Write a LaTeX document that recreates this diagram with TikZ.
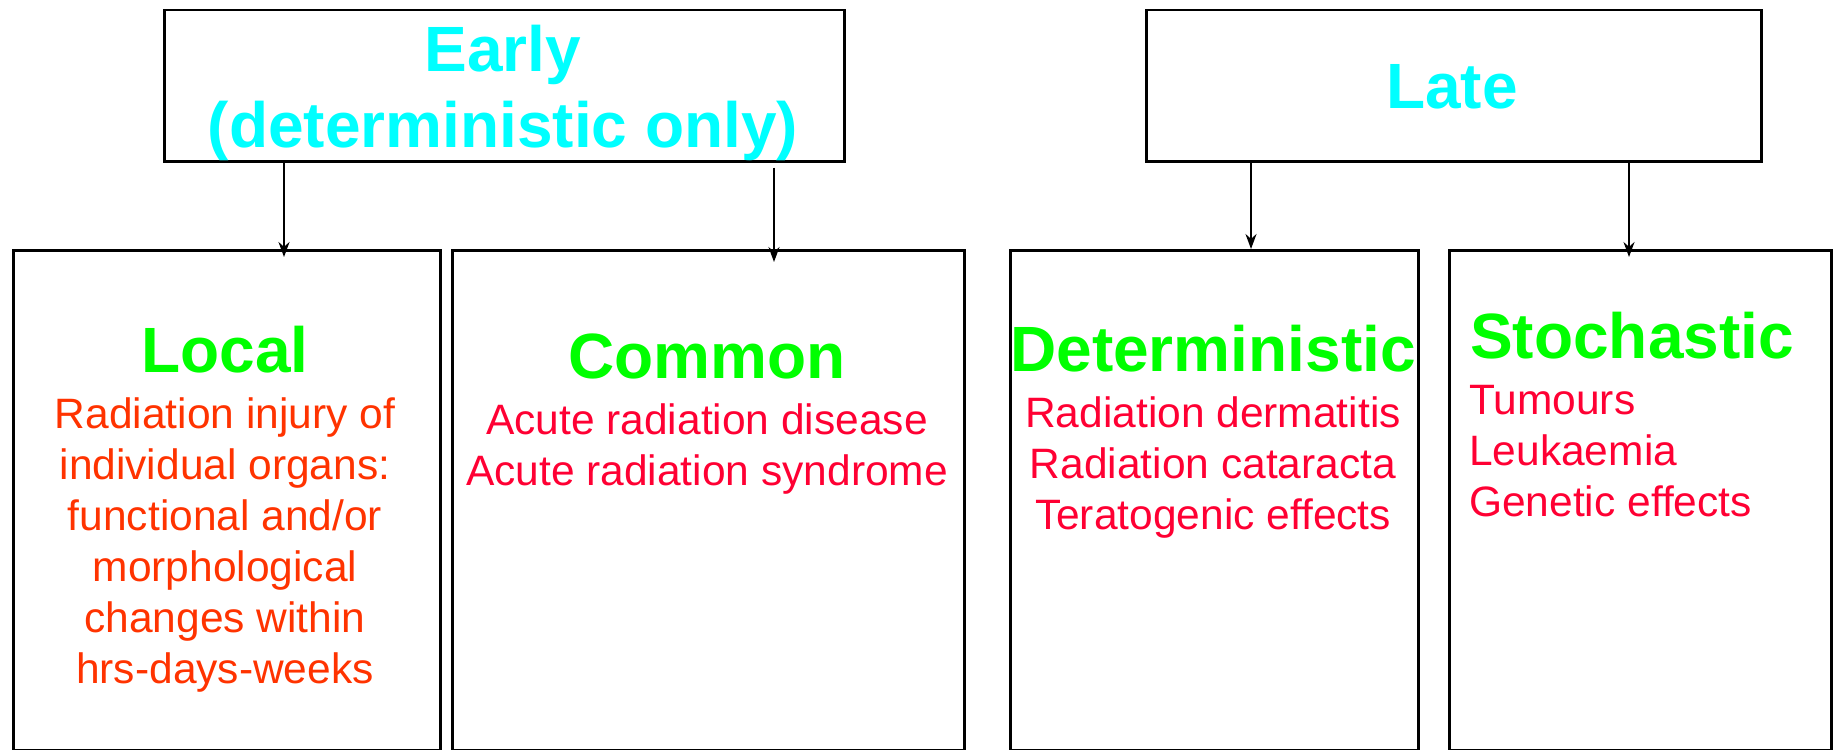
\documentclass[tikz,border=0pt]{standalone}
\usepackage{fontspec}
\setmainfont{Liberation Sans}
\usetikzlibrary{arrows.meta,positioning,calc}

\definecolor{headcyan}{RGB}{0,255,255}
\definecolor{headgreen}{RGB}{0,255,0}
\definecolor{effectorange}{RGB}{255,51,0}
\definecolor{effectred}{RGB}{255,0,51}

\tikzset{
  box/.style={draw, line width=2.5pt, anchor=north west, inner sep=0pt},
  title/.style={text=headcyan, font=\fontsize{64}{76}\selectfont\bfseries, align=center, inner sep=0pt, anchor=base},
  heading/.style={text=headgreen, font=\fontsize{64}{76}\selectfont\bfseries, inner sep=0pt, anchor=base},
  effects/.style={font=\fontsize{42.5}{51}\selectfont, inner sep=0pt, anchor=base},
  link/.style={-{Stealth[length=15pt,width=11pt]}, line width=2pt},
}

\begin{document}
\begin{tikzpicture}[x=1pt, y=-1pt]
  \useasboundingbox (0,0) rectangle (1835,749);

  % top level: early and late effects
  \node[box, minimum width=680pt, minimum height=151pt] (early) at (163,9) {};
  \node[box, minimum width=615pt, minimum height=151pt] (late) at (1145,9) {};
  % base anchor sits on the last line
  \node[title] (earlytxt) at (503,147) {Early\\(deterministic only)};
  \node[title] (latetxt) at (1452,109) {Late};

  % second level boxes
  \node[box, minimum width=427pt, minimum height=500pt] (local) at (12,249) {};
  \node[box, minimum width=512pt, minimum height=500pt] (common) at (451,249) {};
  \node[box, minimum width=408pt, minimum height=500pt] (determ) at (1009,249) {};
  \node[box, minimum width=382pt, minimum height=500pt] (stoch) at (1448,249) {};

  % Local
  \node[heading] (localhd) at (225,372) {Local};
  \node[effects, text=effectorange, align=center] (localtxt) at (225,683)
    {Radiation injury of\\individual organs:\\functional and/or\\morphological\\changes within\\hrs-days-weeks};

  % Common
  \node[heading] (commonhd) at (707,378) {Common};
  \node[effects, text=effectred, align=center] (commontxt) at (707,485)
    {Acute radiation disease\\Acute radiation syndrome};

  % Deterministic
  \node[heading] (determhd) at (1213,371) {Deterministic};
  \node[effects, text=effectred, align=center] (determtxt) at (1213,529)
    {Radiation dermatitis\\Radiation cataracta\\Teratogenic effects};

  % Stochastic
  \node[heading, anchor=base west] (stochhd) at (1470,358) {Stochastic};
  \node[effects, text=effectred, align=left, anchor=base west] (stochtxt) at (1469,516)
    {Tumours\\Leukaemia\\Genetic effects};

  % arrows
  \draw[link] ([xshift=121pt]early.south west) -- ([xshift=272pt,yshift=-8pt]local.north west);
  \draw[link] ([xshift=611pt,yshift=-5pt]early.south west) -- ([xshift=323pt,yshift=-13pt]common.north west);
  \draw[link] ([xshift=106pt]late.south west) -- ([xshift=242pt]determ.north west);
  \draw[link] ([xshift=484pt]late.south west) -- ([xshift=181pt,yshift=-8pt]stoch.north west);
\end{tikzpicture}
\end{document}
